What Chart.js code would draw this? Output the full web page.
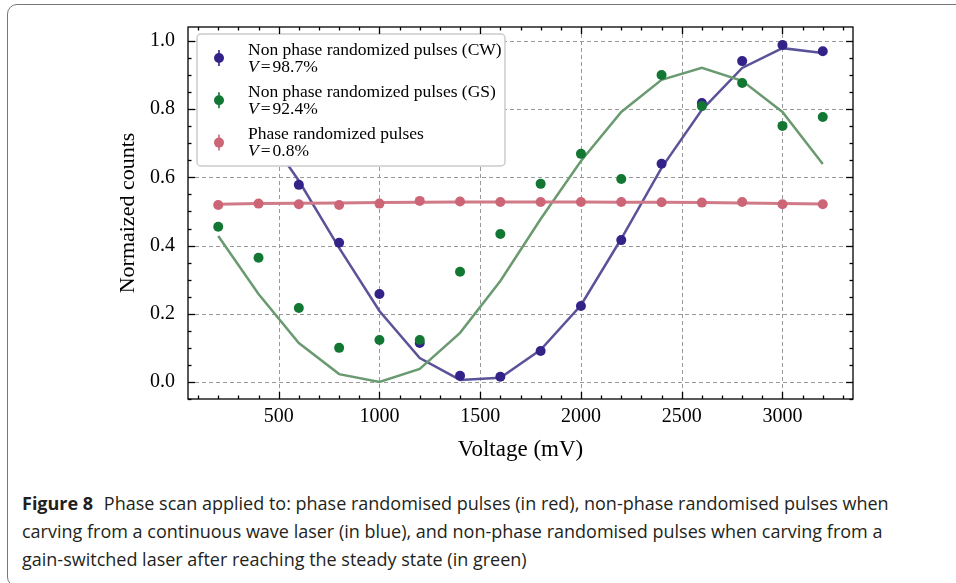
<!DOCTYPE html>
<html>
<head>
<meta charset="utf-8">
<script src="https://cdn.jsdelivr.net/npm/chart.js@4.4.1/dist/chart.umd.min.js"></script>
<style>
  html, body { margin: 0; padding: 0; background: #fff; }
  #wrap { position: relative; width: 956px; height: 583px; overflow: hidden; }
  #frame { position: absolute; left: 7px; top: 4px; width: 1000px; height: 583px;
           border: 1.5px solid #777; border-radius: 10px; box-sizing: border-box; }
  #chart { position: absolute; left: 0; top: 0; }
  #caption { position: absolute; left: 22px; top: 489px; width: 884px;
             font-family: 'Open Sans', sans-serif; font-size: 18px; line-height: 28px; color: #231f20; }
  #caption b { font-weight: 700; margin-right: 6px; }
</style>
</head>
<body>
<div id="wrap">
  <div id="frame"></div>
  <canvas id="chart" width="956" height="470"></canvas>
  <div id="caption"><b>Figure 8</b> Phase scan applied to: phase randomised pulses (in red), non-phase randomised pulses when carving from a continuous wave laser (in blue), and non-phase randomised pulses when carving from a gain-switched laser after reaching the steady state (in green)</div>
</div>
<script>
// voltages (mV)
const volts = [200, 400, 600, 800, 1000, 1200, 1400, 1600, 1800, 2000, 2200, 2400, 2600, 2800, 3000, 3200];

// CW laser, non phase randomized
const cwPoints = [0.91, 0.77, 0.578, 0.408, 0.258, 0.114, 0.018, 0.015, 0.091, 0.223, 0.416, 0.640, 0.818, 0.941, 0.988, 0.970];
const cwFit    = [0.90, 0.76, 0.590, 0.393, 0.208, 0.070, 0.006, 0.012, 0.094, 0.225, 0.420, 0.628, 0.798, 0.921, 0.979, 0.965];

// gain-switched laser, non phase randomized
const gsPoints = [0.455, 0.364, 0.217, 0.100, 0.123, 0.123, 0.323, 0.434, 0.581, 0.669, 0.595, 0.900, 0.809, 0.877, 0.751, 0.777];
const gsFit    = [0.428, 0.258, 0.114, 0.023, 0.000, 0.038, 0.144, 0.296, 0.478, 0.648, 0.792, 0.886, 0.921, 0.883, 0.792, 0.639];

// phase randomized
const prPoints = [0.519, 0.523, 0.521, 0.519, 0.523, 0.531, 0.529, 0.528, 0.528, 0.528, 0.528, 0.527, 0.526, 0.528, 0.521, 0.521];
const prFit    = [0.521, 0.523, 0.524, 0.525, 0.526, 0.527, 0.528, 0.528, 0.528, 0.528, 0.527, 0.527, 0.526, 0.525, 0.523, 0.522];

const xTicks = [500, 1000, 1500, 2000, 2500, 3000];
const yTicks = [0.0, 0.2, 0.4, 0.6, 0.8, 1.0];

const legendNames = ['Non phase randomized pulses (CW)', 'Non phase randomized pulses (GS)', 'Phase randomized pulses'];
const legendVis = ['98.7%', '92.4%', '0.8%'];
const colors = ['#332288', '#117733', '#CC6677'];
const fitColors = ['#5a5399', '#6a9a70', '#d07a88'];

const pts = arr => volts.map((x, i) => ({ x: x, y: arr[i] }));

const serif = "'Liberation Serif', 'Times New Roman', serif";

// grid, frame and inward ticks
const axesPlugin = {
  id: 'axesDeco',
  beforeDatasetsDraw(chart) {
    const { ctx, chartArea: a, scales: { x, y } } = chart;
    ctx.save();
    ctx.strokeStyle = '#9a9a9a';
    ctx.lineWidth = 1;
    ctx.setLineDash([4, 3]);
    xTicks.forEach(v => {
      const px = Math.round(x.getPixelForValue(v)) + 0.5;
      ctx.beginPath(); ctx.moveTo(px, a.top); ctx.lineTo(px, a.bottom); ctx.stroke();
    });
    yTicks.forEach(v => {
      const py = Math.round(y.getPixelForValue(v)) + 0.5;
      ctx.beginPath(); ctx.moveTo(a.left, py); ctx.lineTo(a.right, py); ctx.stroke();
    });
    ctx.restore();
  },
  afterDraw(chart) {
    const { ctx, chartArea: a, scales: { x, y } } = chart;
    ctx.save();
    ctx.strokeStyle = '#000';
    ctx.lineWidth = 1.3;
    ctx.strokeRect(a.left, a.top, a.right - a.left, a.bottom - a.top);
    const tick = (px, py, dx, dy) => { ctx.beginPath(); ctx.moveTo(px, py); ctx.lineTo(px + dx, py + dy); ctx.stroke(); };
    for (let v = 100; v <= 3300; v += 100) {
      const px = Math.round(x.getPixelForValue(v)) + 0.5;
      const len = v % 500 === 0 ? 7 : 3.5;
      tick(px, a.bottom, 0, -len);
      tick(px, a.top, 0, len);
    }
    for (let k = -1; k <= 20; k++) {
      const v = k * 0.05;
      if (v < y.min || v > y.max) continue;
      const py = Math.round(y.getPixelForValue(v)) + 0.5;
      const len = k % 4 === 0 ? 7 : 3.5;
      tick(a.left, py, len, 0);
      tick(a.right, py, -len, 0);
    }
    ctx.restore();
  }
};

// legend inside the axes, upper left
const legendPlugin = {
  id: 'innerLegend',
  afterDatasetsDraw(chart) {
    const { ctx, chartArea: a } = chart;
    const bx = a.left + 9, by = a.top + 7, bw = 308, bh = 132;
    ctx.save();
    ctx.beginPath();
    ctx.roundRect(bx, by, bw, bh, 4);
    ctx.fillStyle = '#ffffff';
    ctx.fill();
    ctx.strokeStyle = '#cccccc';
    ctx.lineWidth = 1.5;
    ctx.stroke();
    ctx.textBaseline = 'middle';
    legendNames.forEach((name, i) => {
      const cy = by + 24 + i * 42.3;
      const mx = bx + 22;
      ctx.strokeStyle = colors[i];
      ctx.lineWidth = 1.6;
      ctx.beginPath(); ctx.moveTo(mx, cy - 8); ctx.lineTo(mx, cy + 8); ctx.stroke();
      ctx.fillStyle = colors[i];
      ctx.beginPath(); ctx.arc(mx, cy, 5, 0, Math.PI * 2); ctx.fill();
      ctx.fillStyle = '#000';
      const tx = bx + 51;
      ctx.font = "17.5px " + serif;
      ctx.fillText(name, tx, cy - 8);
      ctx.font = "italic 17.5px " + serif;
      ctx.fillText('V', tx, cy + 9);
      let cx = tx + ctx.measureText('V').width + 2;
      ctx.font = "17.5px " + serif;
      ctx.fillText('=', cx, cy + 9);
      cx += ctx.measureText('=').width + 2;
      ctx.fillText(legendVis[i], cx, cy + 9);
    });
    ctx.restore();
  }
};

new Chart(document.getElementById('chart'), {
  type: 'line',
  data: {
    datasets: [
      { label: 'CW fit', data: pts(cwFit), borderColor: fitColors[0], borderWidth: 2.5, pointRadius: 0, order: 6 },
      { label: legendNames[0], data: pts(cwPoints), showLine: false, pointRadius: 5, backgroundColor: colors[0], borderWidth: 0, order: 5 },
      { label: 'GS fit', data: pts(gsFit), borderColor: fitColors[1], borderWidth: 2.5, pointRadius: 0, order: 4 },
      { label: legendNames[1], data: pts(gsPoints), showLine: false, pointRadius: 5, backgroundColor: colors[1], borderWidth: 0, order: 3 },
      { label: 'PR fit', data: pts(prFit), borderColor: fitColors[2], borderWidth: 3, pointRadius: 0, order: 2 },
      { label: legendNames[2], data: pts(prPoints), showLine: false, pointRadius: 5, backgroundColor: colors[2], borderWidth: 0, order: 1 }
    ]
  },
  options: {
    responsive: false,
    animation: false,
    devicePixelRatio: 1,
    layout: { padding: { left: 0, top: 27, right: 103, bottom: 0 } },
    plugins: { legend: { display: false }, tooltip: { enabled: false } },
    scales: {
      x: {
        type: 'linear', min: 50, max: 3350,
        afterBuildTicks: s => { s.ticks = xTicks.map(v => ({ value: v })); },
        afterFit: s => { s.height = 71; },
        grid: { display: false, drawTicks: false },
        border: { display: false },
        ticks: { color: '#000', padding: 6, maxRotation: 0, autoSkip: false, font: { family: serif, size: 20 }, callback: v => String(v) },
        title: { display: true, text: 'Voltage (mV)', color: '#000', font: { family: serif, size: 23 }, padding: { top: 0, bottom: 6 } }
      },
      y: {
        type: 'linear', min: -0.05, max: 1.041,
        afterBuildTicks: s => { s.ticks = yTicks.map(v => ({ value: v })); },
        afterFit: s => { s.width = 188; },
        grid: { display: false, drawTicks: false },
        border: { display: false },
        ticks: { color: '#000', padding: 13, font: { family: serif, size: 20 }, callback: v => v.toFixed(1) },
        title: { display: true, text: 'Normaized counts', color: '#000', font: { family: serif, size: 22 }, padding: { top: 115, bottom: 0 } }
      }
    }
  },
  plugins: [axesPlugin, legendPlugin]
});
</script>
</body>
</html>
